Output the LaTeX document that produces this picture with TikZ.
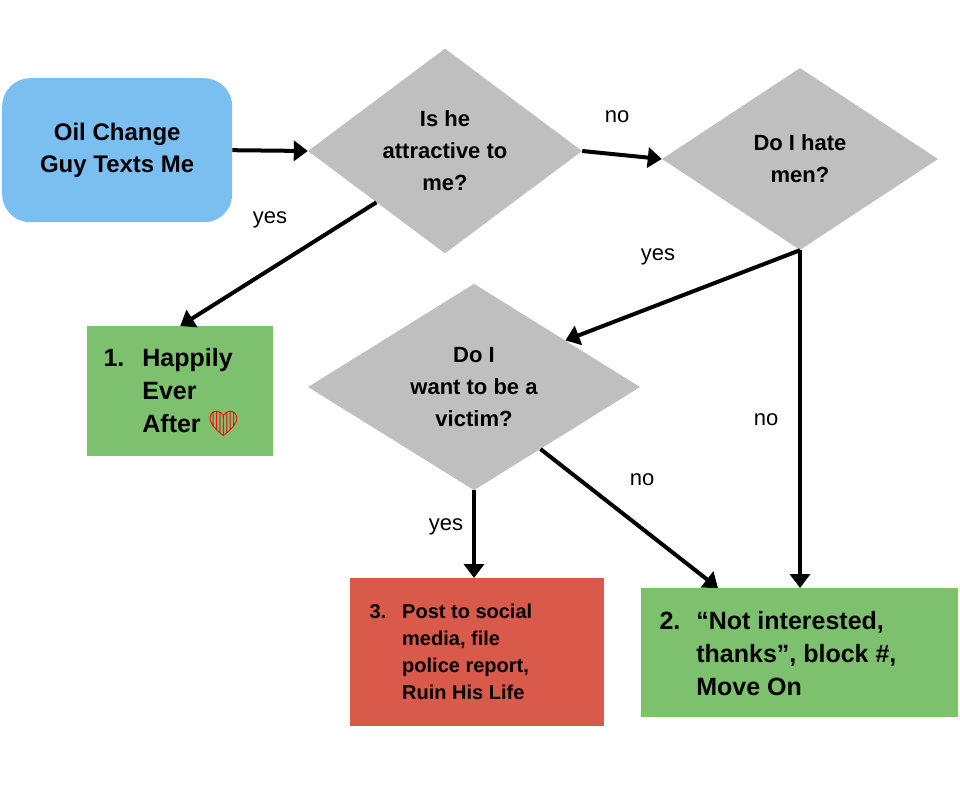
\documentclass[tikz,border=0pt]{standalone}
\usepackage{fontspec}
\setmainfont{Liberation Sans}
\newfontfamily\emojifont{Noto Emoji}
\usetikzlibrary{shapes.geometric,calc,arrows.meta}
\definecolor{boxblue}{HTML}{7BBEF0}
\definecolor{dgray}{HTML}{BFBFBF}
\definecolor{boxgreen}{HTML}{7DC06E}
\definecolor{boxred}{HTML}{D9594A}
\tikzset{
 dec/.style={diamond,fill=dgray,inner sep=0pt,font=\bfseries\fontsize{22}{32}\selectfont,align=center},
 res/.style={rectangle,inner sep=0pt,anchor=north west},
 arr/.style={line width=4pt,-{Triangle[length=14pt,width=20pt]}},
 lbl/.style={font=\fontsize{22}{26}\selectfont}
}
\begin{document}
\begin{tikzpicture}[x=1pt,y=-1pt]
\useasboundingbox (0,0) rectangle (960,802);
\fill[white] (0,0) rectangle (960,802);
\node[res,fill=boxblue,rounded corners=28pt,minimum width=230pt,minimum height=144pt,font=\bfseries\fontsize{24}{32}\selectfont,align=center] (start) at (2,78) {Oil Change\\Guy Texts Me};
\node[dec,minimum width=274pt,minimum height=162pt] (d1) at (445,151) {Is he\\attractive to\\me?};
\node[dec,minimum width=276pt,minimum height=182pt] (d2) at (800,159) {Do I hate\\men?};
\node[dec,minimum width=332pt,minimum height=165pt] (d3) at (474,387) {Do I\\want to be a\\victim?};
\node[res,fill=boxgreen,minimum width=186pt,minimum height=130pt] (g1) at (87,326) {};
\node[anchor=north west,font=\bfseries\fontsize{25}{33}\selectfont] (g1t) at (100,340) {\begin{tabular}{@{}l@{\hspace{18pt}}l@{}}1.&Happily\\&Ever\\&After {\emojifont\textcolor{red}{❤}}\end{tabular}};
\node[res,fill=boxred,minimum width=254pt,minimum height=148pt] (r3) at (350,578) {};
\node[anchor=north west,font=\bfseries\fontsize{20}{27}\selectfont] (r3t) at (366,596) {\begin{tabular}{@{}l@{\hspace{16pt}}l@{}}3.&Post to social\\&media, file\\&police report,\\&Ruin His Life\end{tabular}};
\node[res,fill=boxgreen,minimum width=317pt,minimum height=129pt] (g2) at (641,588) {};
\node[anchor=north west,font=\bfseries\fontsize{25}{33}\selectfont] (g2t) at (656,603) {\begin{tabular}{@{}l@{\hspace{16pt}}l@{}}2.&“Not interested,\\&thanks”, block \#,\\&Move On\end{tabular}};
\draw[arr] (start.east) -- (d1.west);
\draw[arr] (d1.east) -- (d2.west);
\draw[arr] ($(d1.west)!0.5!(d1.south)$) -- (g1.north);
\draw[arr] (d2.south) -- (g2.north -| d2.south);
\draw[arr] (d2.south) -- ($(d3.north)!0.55!(d3.east)$);
\draw[arr] (d3.south) -- (r3.north -| d3.south);
\coordinate (g2in) at ($(g2.north west)+(77,0)$);
\draw[arr] ($(d3.south)!0.4!(d3.east)$) -- (g2in);
\node[lbl] (l1) at (617,117) {no};
\node[lbl] (l2) at (270,220) {yes};
\node[lbl] (l3) at (658,257) {yes};
\node[lbl] (l4) at (766,420) {no};
\node[lbl] (l5) at (446,527) {yes};
\node[lbl] (l6) at (642,480) {no};
\end{tikzpicture}
\end{document}
